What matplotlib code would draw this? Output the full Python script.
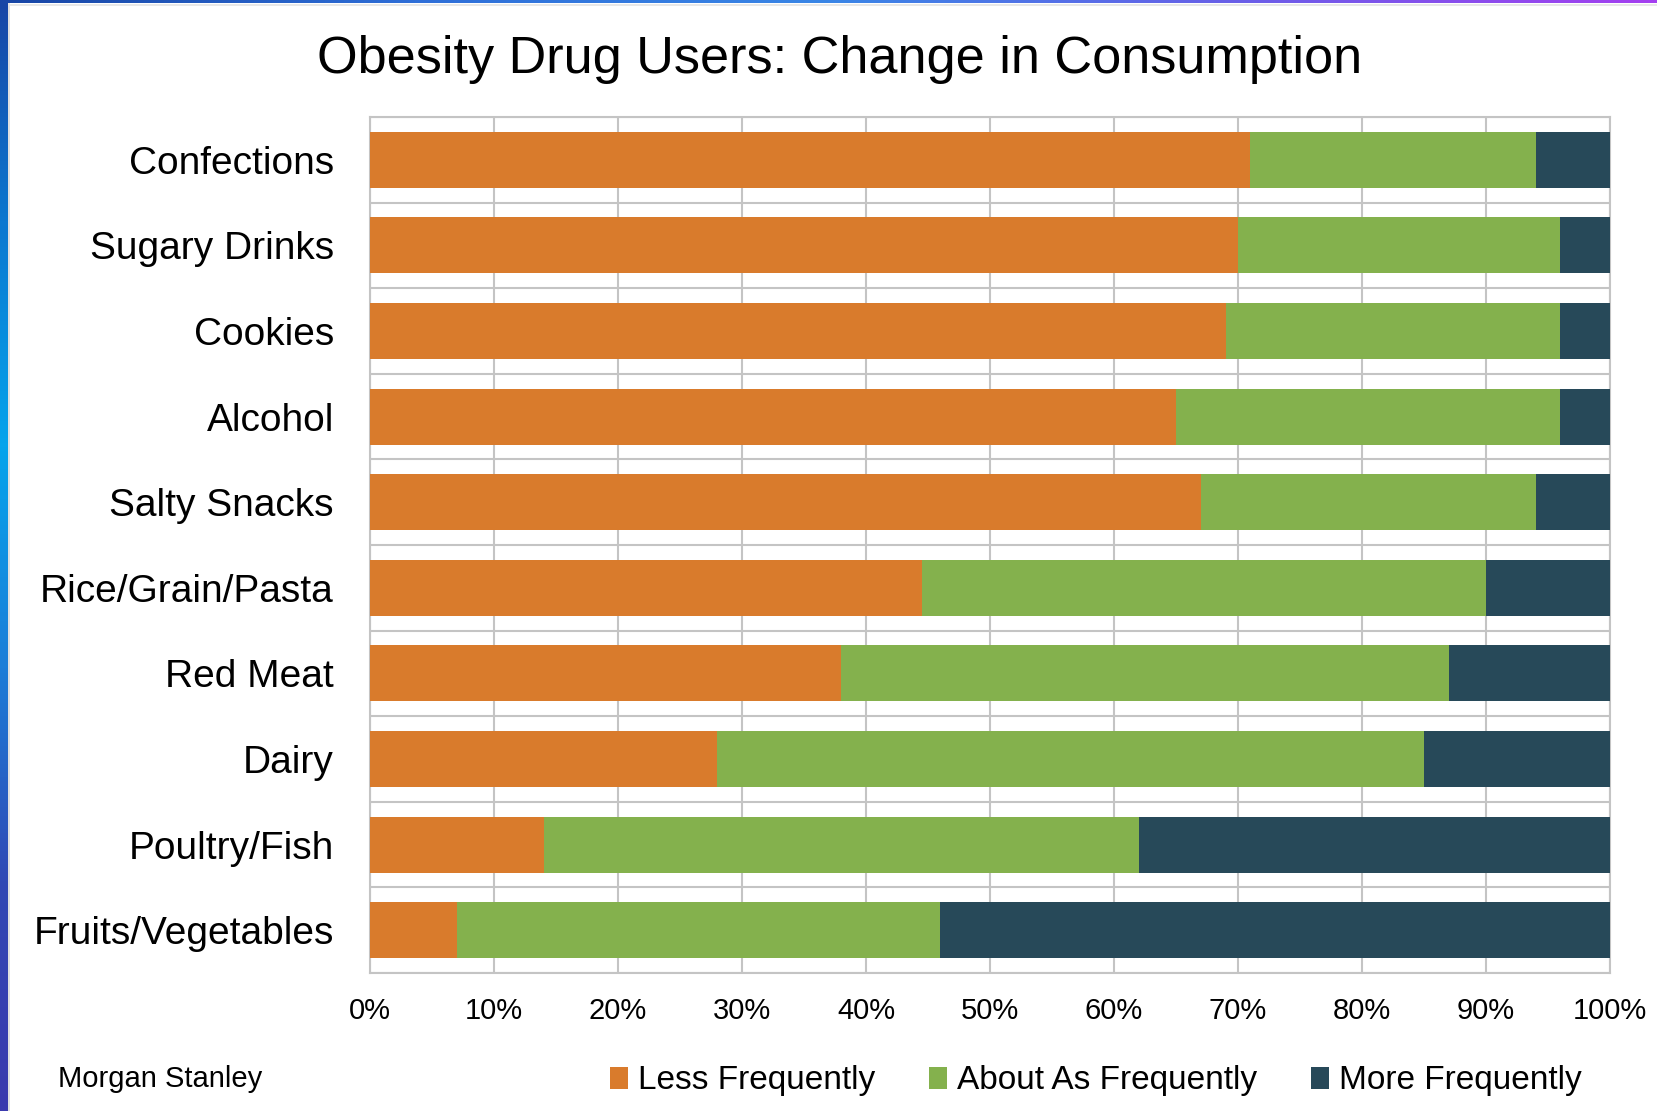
import numpy as np
import matplotlib
matplotlib.use("Agg")
import matplotlib.pyplot as plt
from matplotlib.colors import LinearSegmentedColormap
from matplotlib.patches import Patch

plt.rcParams["font.family"] = ["Liberation Sans", "DejaVu Sans"]

# ---- data (percent of respondents) ----
categories = ["Confections", "Sugary Drinks", "Cookies", "Alcohol", "Salty Snacks",
              "Rice/Grain/Pasta", "Red Meat", "Dairy", "Poultry/Fish", "Fruits/Vegetables"]
less_freq = [71, 70, 69, 65, 67, 44.5, 38, 28, 14, 7]
about_same = [23, 26, 27, 31, 27, 45.5, 49, 57, 48, 39]
more_freq = [6, 4, 4, 4, 6, 10, 13, 15, 38, 54]
series_names = ["Less Frequently", "About As Frequently", "More Frequently"]
xticks = [0, 10, 20, 30, 40, 50, 60, 70, 80, 90, 100]
title = "Obesity Drug Users: Change in Consumption"
source = "Morgan Stanley"

colors = ["#D97B2C", "#84B14D", "#274959"]
grid_color = "#C4C4C4"

W, H, DPI = 1657, 1111, 100
fig = plt.figure(figsize=(W / DPI, H / DPI), dpi=DPI)
fig.patch.set_facecolor("white")

# decorative slide frame: gradient strips on the left and top edges
frame_l = fig.add_axes([0, 0, 8 / W, 1])
left_cmap = LinearSegmentedColormap.from_list(
    "lft", ["#1846A6", "#0B78D0", "#05A4EC", "#1C7ED8", "#3147B4", "#3B3AAE"])
frame_l.imshow(np.linspace(0, 1, 256).reshape(-1, 1), aspect="auto", cmap=left_cmap)
frame_l.set_axis_off()
frame_t = fig.add_axes([0, 1 - 3 / H, 1, 3 / H])
top_cmap = LinearSegmentedColormap.from_list(
    "top", ["#1846A6", "#2F6FD8", "#3A86E6", "#6A5FE8", "#A43FF0"])
frame_t.imshow(np.linspace(0, 1, 256).reshape(1, -1), aspect="auto", cmap=top_cmap)
frame_t.set_axis_off()
fig.add_artist(plt.Line2D([9 / W, 9 / W], [0, 1 - 4 / H], color="#DADADA", lw=1.2))
fig.add_artist(plt.Line2D([9 / W, 1], [1 - 4.5 / H, 1 - 4.5 / H], color="#E4E4E4", lw=1.2))

ax = fig.add_axes([370 / W, 1 - 973 / H, 1240 / W, 856 / H])

y = np.arange(len(categories))
left = np.zeros(len(categories))
for vals, name, col in zip([less_freq, about_same, more_freq], series_names, colors):
    ax.barh(y, vals, left=left, height=0.655, color=col, label=name, zorder=3)
    left += np.array(vals)

ax.set_xlim(0, 100)
ax.set_ylim(len(categories) - 0.5, -0.5)
ax.set_xticks(xticks)
ax.set_xticklabels([f"{t}%" for t in xticks], fontsize=21)
ax.set_yticks(y)
ax.set_yticklabels(categories, fontsize=28)
ax.tick_params(axis="both", length=0)
ax.tick_params(axis="x", pad=17)
ax.tick_params(axis="y", pad=26)

# vertical grid at each 10%, horizontal rules between categories
ax.grid(axis="x", color=grid_color, lw=1.5, zorder=0)
for b in np.arange(len(categories) + 1) - 0.5:
    ax.axhline(b, color=grid_color, lw=1.5, zorder=0)
for s in ax.spines.values():
    s.set_color(grid_color)
    s.set_linewidth(1.5)

fig.text(840 / W, 1 - 59 / H, title, fontsize=37.6, ha="center", va="center")
fig.text(58 / W, 1 - 1079 / H, source, fontsize=21, ha="left", va="center")

handles = [Patch(facecolor=c, label=n) for c, n in zip(colors, series_names)]
fig.legend(handles=handles, loc="center", bbox_to_anchor=(1096 / W, 1 - 1081 / H),
           ncol=3, frameon=False, fontsize=24, handlelength=0.55, handleheight=0.65,
           handletextpad=0.3, columnspacing=1.6)

fig.savefig("out.png", dpi=DPI, facecolor="white")
